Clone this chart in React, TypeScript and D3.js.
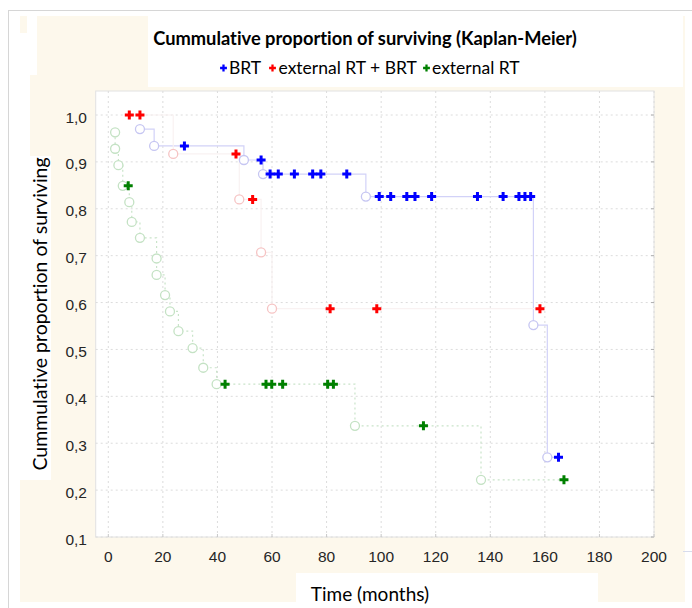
import React from "react";
import * as d3 from "d3";

type P = [number, number];

const xTicks = [0, 20, 40, 60, 80, 100, 120, 140, 160, 180, 200];
const yTicks = [0.1, 0.2, 0.3, 0.4, 0.5, 0.6, 0.7, 0.8, 0.9, 1.0];

// BRT
const brtEvents: P[] = [
  [11.6, 0.970], [16.8, 0.934], [49.7, 0.904], [56.7, 0.874], [94.4, 0.826], [155.8, 0.552], [160.9, 0.270],
];
const brtCensored: P[] = [
  [27.9, 0.934], [56.0, 0.904], [59.3, 0.874], [62.3, 0.874], [68.2, 0.874], [74.9, 0.874], [77.9, 0.874],
  [87.4, 0.874], [99.3, 0.826], [103.5, 0.826], [109.4, 0.826], [112.4, 0.826], [118.5, 0.826], [135.3, 0.826],
  [144.7, 0.826], [150.5, 0.826], [152.7, 0.826], [154.8, 0.826], [165.0, 0.270],
];

// external RT + BRT
const combEvents: P[] = [
  [23.8, 0.917], [48.0, 0.820], [56.0, 0.707], [60.0, 0.587],
];
const combCensored: P[] = [
  [7.7, 1.0], [11.6, 1.0], [46.8, 0.917], [52.9, 0.820], [81.3, 0.587], [98.4, 0.587], [158.2, 0.587],
];

// external RT
const extEvents: P[] = [
  [2.5, 0.963], [2.5, 0.928], [3.7, 0.893], [5.3, 0.849], [7.7, 0.814], [8.6, 0.772], [11.6, 0.738],
  [17.7, 0.694], [17.7, 0.659], [20.8, 0.616], [22.6, 0.581], [25.7, 0.539], [30.9, 0.503], [34.8, 0.461],
  [39.7, 0.426], [90.4, 0.337], [136.6, 0.222],
];
const extCensored: P[] = [
  [7.3, 0.849], [42.8, 0.426], [57.8, 0.426], [59.9, 0.426], [63.9, 0.426], [80.4, 0.426], [82.5, 0.426],
  [115.5, 0.337], [167.0, 0.222],
];

const series = [
  { name: "BRT", events: brtEvents, censored: brtCensored, color: "#0000ff", line: "#d2d2f8", circle: "#c6c6f2", dash: "" },
  { name: "external RT + BRT", events: combEvents, censored: combCensored, color: "#ff0000", line: "#f9f2f2", circle: "#f6c4c4", dash: "" },
  { name: "external RT", events: extEvents, censored: extCensored, color: "#008000", line: "#c9e4c9", circle: "#c4e2c4", dash: "2,3" },
];

const W = 692, H = 608;
const plotL = 95.7, plotR = 654, plotT = 91, plotB = 537;
const noLig = { fontVariantLigatures: "none" as const };

export default function App() {
  const x = d3.scaleLinear().domain([0, 200]).range([108.3, 654]);
  const y = d3.scaleLinear().domain([0.1, 1.0]).range([537, 115]);
  const line = d3.line<P>().x((d) => x(d[0])).y((d) => y(d[1])).curve(d3.curveStepAfter);
  const cross = d3.symbol().type(d3.symbolCross).size(45)() as string;
  const crossSmall = d3.symbol().type(d3.symbolCross).size(26)() as string;

  const legend = [
    { cx: 223.5, tx: 229 },
    { cx: 272.5, tx: 278.5 },
    { cx: 426.5, tx: 432 },
  ];

  return (
    <svg width={W} height={H} style={{ position: "absolute", left: 0, top: 0, display: "block" }}>
      <rect x={0} y={0} width={W} height={H} fill="#ffffff" />
      {/* outer frame */}
      <line x1={8} y1={10.5} x2={W} y2={10.5} stroke="#d6d6d6" />
      <line x1={8.5} y1={10} x2={8.5} y2={H} stroke="#d6d6d6" />
      {/* cream backgrounds */}
      <rect x={20} y={16} width={7} height={17} fill="#fdf8ec" />
      <rect x={37} y={16} width={648} height={586} fill="#fdf8ec" />
      <rect x={30} y={75} width={10} height={527} fill="#fdf8ec" />
      <rect x={20} y={480} width={12} height={122} fill="#fdf8ec" />
      {/* white patches */}
      <rect x={148} y={14} width={535} height={73} fill="#ffffff" />
      <rect x={296} y={573} width={302} height={35} fill="#ffffff" />
      <rect x={22} y={156} width={29} height={324} fill="#ffffff" />
      <rect x={685} y={16} width={7} height={592} fill="#ffffff" />
      <line x1={683} y1={551.5} x2={W} y2={551.5} stroke="#d8dcec" />

      {/* plot area */}
      <rect x={plotL} y={plotT} width={plotR - plotL} height={plotB - plotT} fill="#ffffff" stroke="#e2e2e2" />
      {xTicks.map((t) => (
        <line key={"gx" + t} x1={x(t)} x2={x(t)} y1={plotT} y2={plotB} stroke="#dcdcdc" strokeDasharray="2,3" />
      ))}
      {yTicks.map((t) => (
        <line key={"gy" + t} x1={plotL} x2={plotR} y1={y(t)} y2={y(t)} stroke="#dcdcdc" strokeDasharray="2,3" />
      ))}
      {yTicks.map((t) => (
        <line key={"ty" + t} x1={plotR - 3} x2={plotR} y1={y(t)} y2={y(t)} stroke="#b0b0b0" />
      ))}
      {xTicks.map((t) => (
        <line key={"tx" + t} x1={x(t)} x2={x(t)} y1={plotB - 3} y2={plotB} stroke="#c8c8c8" />
      ))}

      {/* step lines */}
      {series.map((s) => {
        const pts = [...s.events, ...s.censored].sort((a, b) => a[0] - b[0] || b[1] - a[1]);
        return (
          <path key={"l" + s.name} d={line(pts) || ""} fill="none" stroke={s.line} strokeWidth={1.2}
            strokeDasharray={s.dash || undefined} />
        );
      })}
      {/* event circles */}
      {series.map((s) =>
        s.events.map((d, i) => (
          <circle key={"c" + s.name + i} cx={x(d[0])} cy={y(d[1])} r={4.5} fill="#ffffff" stroke={s.circle} strokeWidth={1.3} />
        ))
      )}
      {/* censored crosses */}
      {series.map((s) =>
        s.censored.map((d, i) => (
          <path key={"x" + s.name + i} d={cross} transform={`translate(${x(d[0])},${y(d[1])})`} fill={s.color} />
        ))
      )}

      {/* axis tick labels */}
      {yTicks.map((t) => (
        <text key={"ly" + t} x={87} y={y(t) + 7.5} textAnchor="end" fontFamily="Liberation Sans, Arial, sans-serif"
          fontSize={15.5} fill="#262626">
          {t.toFixed(1).replace(".", ",")}
        </text>
      ))}
      {xTicks.map((t) => (
        <text key={"lx" + t} x={x(t)} y={562} textAnchor="middle" fontFamily="Liberation Sans, Arial, sans-serif"
          fontSize={15.5} fill="#262626">
          {t}
        </text>
      ))}

      {/* title + legend */}
      <text x={365} y={45} textAnchor="middle" fontFamily="Lato, sans-serif" fontWeight="bold" fontSize={18.3} fill="#000" style={noLig}>
        Cummulative proportion of surviving (Kaplan-Meier)
      </text>
      {series.map((s, i) => (
        <g key={"lg" + s.name}>
          <path d={crossSmall} transform={`translate(${legend[i].cx},68)`} fill={s.color} />
          <text x={legend[i].tx} y={74} fontFamily="Lato, sans-serif" fontSize={17.5} fill="#000" style={noLig}>
            {s.name}
          </text>
        </g>
      ))}

      {/* axis titles */}
      <text transform="translate(47,314) rotate(-90)" textAnchor="middle" fontFamily="Lato, sans-serif" fontSize={19.5} fill="#000" style={noLig}>
        Cummulative proportion of surviving
      </text>
      <text x={370} y={601} textAnchor="middle" fontFamily="Lato, sans-serif" fontSize={19} fill="#000" style={noLig}>
        Time (months)
      </text>
    </svg>
  );
}
